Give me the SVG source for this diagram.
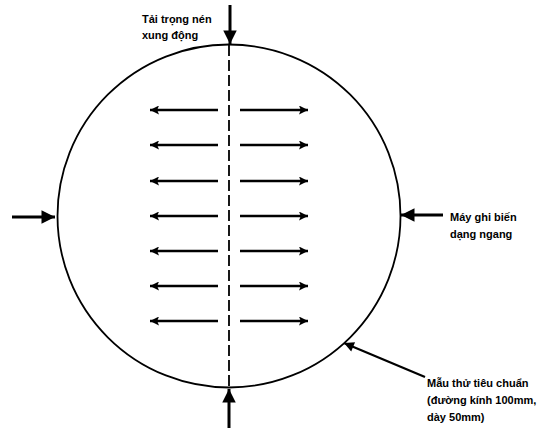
<svg xmlns="http://www.w3.org/2000/svg" width="560" height="428" viewBox="0 0 560 428">
<style>
.t{font-family:"Liberation Sans",Arial,sans-serif;font-size:11px;font-weight:bold;fill:#000}
.ln{stroke:#000;stroke-width:2.5;fill:none}
.sh{stroke:#000;stroke-width:3;fill:none}
</style>
<defs>
<marker id="ah" viewBox="0 0 10 10" refX="10" refY="5" markerWidth="4.5" markerHeight="3.6" orient="auto" markerUnits="strokeWidth">
<path d="M0,0 L10,5 L0,10 L2,5 Z" fill="#000"/>
</marker>
<marker id="big" viewBox="0 0 10 10" refX="10" refY="5" markerWidth="6.5" markerHeight="4.5" orient="auto" markerUnits="strokeWidth">
<path d="M0,0 L10,5 L0,10 Z" fill="#000"/>
</marker>
</defs>
<rect width="560" height="428" fill="#fff"/>
<g id="specimen">
<circle cx="229" cy="216" r="171.5" fill="none" stroke="#000" stroke-width="1.8"/>
</g>
<g id="axis">
<line x1="229" y1="45" x2="229" y2="387" stroke="#000" stroke-width="1.8" stroke-dasharray="11,4"/>
</g>
<g id="connectors">
<line class="sh" x1="230" y1="5" x2="230" y2="44" marker-end="url(#big)"/>
<line class="sh" x1="229" y1="428" x2="229" y2="389" marker-end="url(#big)"/>
<line class="sh" x1="12" y1="217" x2="55" y2="217" marker-end="url(#big)"/>
<line class="sh" x1="443" y1="215" x2="401" y2="215" marker-end="url(#big)"/>
<line x1="425" y1="377" x2="344" y2="343" stroke="#000" stroke-width="2.2" marker-end="url(#big)"/>
<g id="strain">
<line class="ln" x1="218" y1="110" x2="150" y2="110" marker-end="url(#ah)"/>
<line class="ln" x1="240" y1="110" x2="308" y2="110" marker-end="url(#ah)"/>
<line class="ln" x1="218" y1="145" x2="150" y2="145" marker-end="url(#ah)"/>
<line class="ln" x1="240" y1="145" x2="308" y2="145" marker-end="url(#ah)"/>
<line class="ln" x1="218" y1="181" x2="150" y2="181" marker-end="url(#ah)"/>
<line class="ln" x1="240" y1="181" x2="308" y2="181" marker-end="url(#ah)"/>
<line class="ln" x1="218" y1="216" x2="150" y2="216" marker-end="url(#ah)"/>
<line class="ln" x1="240" y1="216" x2="308" y2="216" marker-end="url(#ah)"/>
<line class="ln" x1="218" y1="251" x2="150" y2="251" marker-end="url(#ah)"/>
<line class="ln" x1="240" y1="251" x2="308" y2="251" marker-end="url(#ah)"/>
<line class="ln" x1="218" y1="286" x2="150" y2="286" marker-end="url(#ah)"/>
<line class="ln" x1="240" y1="286" x2="308" y2="286" marker-end="url(#ah)"/>
<line class="ln" x1="218" y1="321" x2="150" y2="321" marker-end="url(#ah)"/>
<line class="ln" x1="240" y1="321" x2="308" y2="321" marker-end="url(#ah)"/>
</g>
</g>
<g id="label-load">
<text class="t" x="142" y="23">Tải trọng nén</text>
<text class="t" x="142" y="39">xung động</text>
</g>
<g id="label-gauge">
<text class="t" x="450" y="221">Máy ghi biến</text>
<text class="t" x="450" y="238">dạng ngang</text>
</g>
<g id="label-specimen">
<text class="t" x="427" y="387">Mẫu thử tiêu chuẩn</text>
<text class="t" x="427" y="404">(đường kính 100mm,</text>
<text class="t" x="427" y="421">dày 50mm)</text>
</g>
</svg>
